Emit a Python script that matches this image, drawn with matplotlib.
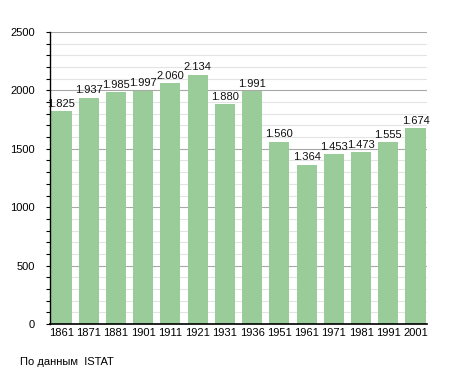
import matplotlib.pyplot as plt
from matplotlib.ticker import MultipleLocator

plt.rcParams['font.family'] = ['Liberation Sans', 'DejaVu Sans']

years = ['1861', '1871', '1881', '1901', '1911', '1921', '1931',
         '1936', '1951', '1961', '1971', '1981', '1991', '2001']
population = [1825, 1937, 1985, 1997, 2060, 2134, 1880,
              1991, 1560, 1364, 1453, 1473, 1555, 1674]
value_labels = ['1.825', '1.937', '1.985', '1.997', '2.060', '2.134', '1.880',
                '1.991', '1.560', '1.364', '1.453', '1.473', '1.555', '1.674']

fig = plt.figure(figsize=(4.55, 3.73), dpi=100)
ax = fig.add_axes([50/455, 1-324/373, 377/455, 292/373])

x = range(len(years))
ax.bar(x, population, width=0.74, color='#99cc99', zorder=2)
for i, (v, lab) in enumerate(zip(population, value_labels)):
	ax.text(i, v + 20, lab, ha='center', va='bottom', fontsize=8, color='#111111', zorder=3)

ax.set_xlim(-0.42, 13.42)
ax.set_ylim(0, 2500)
ax.set_xticks(list(x))
ax.set_xticklabels(years, fontsize=8)
ax.yaxis.set_major_locator(MultipleLocator(500))
ax.yaxis.set_minor_locator(MultipleLocator(100))
ax.tick_params(axis='y', labelsize=8, length=3, width=0.8, pad=8)
ax.tick_params(axis='y', which='minor', length=3, width=0.8)
ax.tick_params(axis='x', length=0, pad=3)

ax.grid(True, axis='y', which='major', color='#a8a8a8', linewidth=0.8, zorder=0)
ax.grid(True, axis='y', which='minor', color='#e4e4e4', linewidth=0.8, zorder=0)
for s in ['top', 'right']:
	ax.spines[s].set_visible(False)
ax.spines['left'].set_linewidth(1)
ax.spines['bottom'].set_linewidth(1.2)

fig.text(20/455, 1-362/373, 'По данным  ISTAT', fontsize=8, va='center')

fig.savefig('out.png', dpi=100)
